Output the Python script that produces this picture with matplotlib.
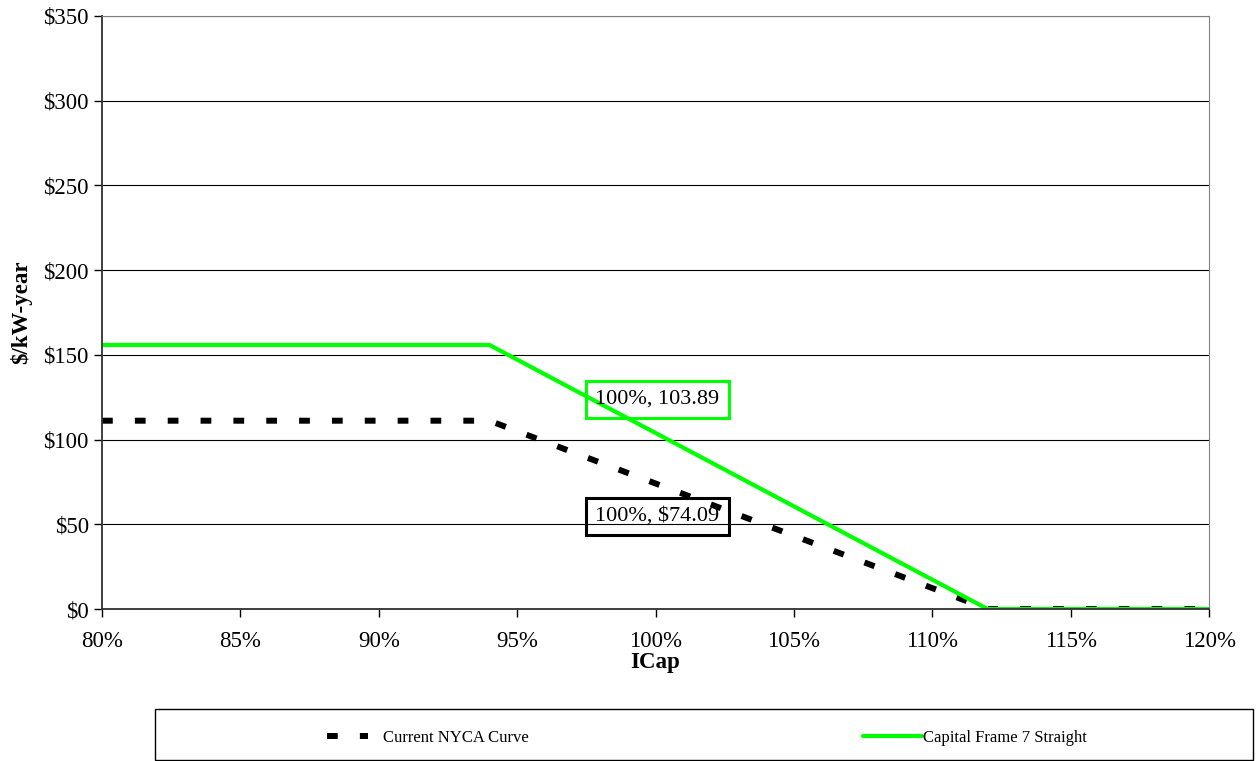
import numpy as np
import matplotlib.pyplot as plt
from matplotlib.patches import Rectangle
from matplotlib.lines import Line2D

plt.rcParams['font.family'] = ['Liberation Serif', 'DejaVu Serif']

# ----- Data -----
icap = [80, 94, 112, 120]
nyca = [111.14, 111.14, 0, 0]
frame7 = [155.84, 155.84, 0, 0]

labels = ["Current NYCA Curve", "Capital Frame 7 Straight"]
yticks = [0, 50, 100, 150, 200, 250, 300, 350]
xticks = [80, 85, 90, 95, 100, 105, 110, 115, 120]

# ----- Plot -----
fig = plt.figure(figsize=(12.58, 7.61), dpi=100)
ax = fig.add_axes([0.0811, 0.1997, 0.8800, 0.7793])

black_style = dict(color='black', lw=4.3, ls=(0, (1.8, 3.7)), dash_capstyle='butt')
green_style = dict(color='#00ff00', lw=3, solid_capstyle='round')

ax.plot(icap, nyca, label=labels[0], **black_style)
ax.plot(icap, frame7, label=labels[1], **green_style)

ax.set_xlim(80, 120)
ax.set_ylim(0, 350)
ax.set_xticks(xticks)
ax.set_xticklabels([f"{x}%" for x in xticks])
ax.set_yticks(yticks)
ax.set_yticklabels([f"${y}" for y in yticks])
ax.tick_params(labelsize=16.5, direction='out', length=6, width=1)
ax.tick_params(axis='x', pad=10)
ax.yaxis.grid(True, color='black', lw=0.8)
ax.set_axisbelow(True)
for side in ['top', 'right']:
    ax.spines[side].set_color('#808080')
for side in ['left', 'bottom']:
    ax.spines[side].set_color('#303030')
    ax.spines[side].set_linewidth(1.3)
ax.set_xlabel("ICap", fontsize=16.5, fontweight='bold', labelpad=0)
ax.set_ylabel("$/kW-year", fontsize=16.5, fontweight='bold', labelpad=8)

# data labels
ax.text(100.07, 123.65, "100%, 103.89", fontsize=16, ha='center', va='center',
        bbox=dict(boxstyle='square,pad=0.42', fc='none', ec='#00ff00', lw=2.2))
ax.text(100.07, 54.6, "100%, $74.09", fontsize=16, ha='center', va='center',
        bbox=dict(boxstyle='square,pad=0.42', fc='none', ec='black', lw=2.2))

# legend box
fig.patches.append(Rectangle((0.1232, 0.0013), 0.8728, 0.067, transform=fig.transFigure,
                             fill=False, ec='black', lw=1))
h1 = Line2D([], [], **black_style)
h2 = Line2D([], [], **green_style)
fig.legend([h1], [labels[0]], loc='center', bbox_to_anchor=(0.3398, 0.030),
           frameon=False, fontsize=12, handlelength=2.5, handletextpad=0.85)
fig.legend([h2], [labels[1]], loc='center', bbox_to_anchor=(0.775, 0.030),
           frameon=False, fontsize=12, handlelength=3.5, handletextpad=0.05)

fig.savefig("out.png", dpi=100)
